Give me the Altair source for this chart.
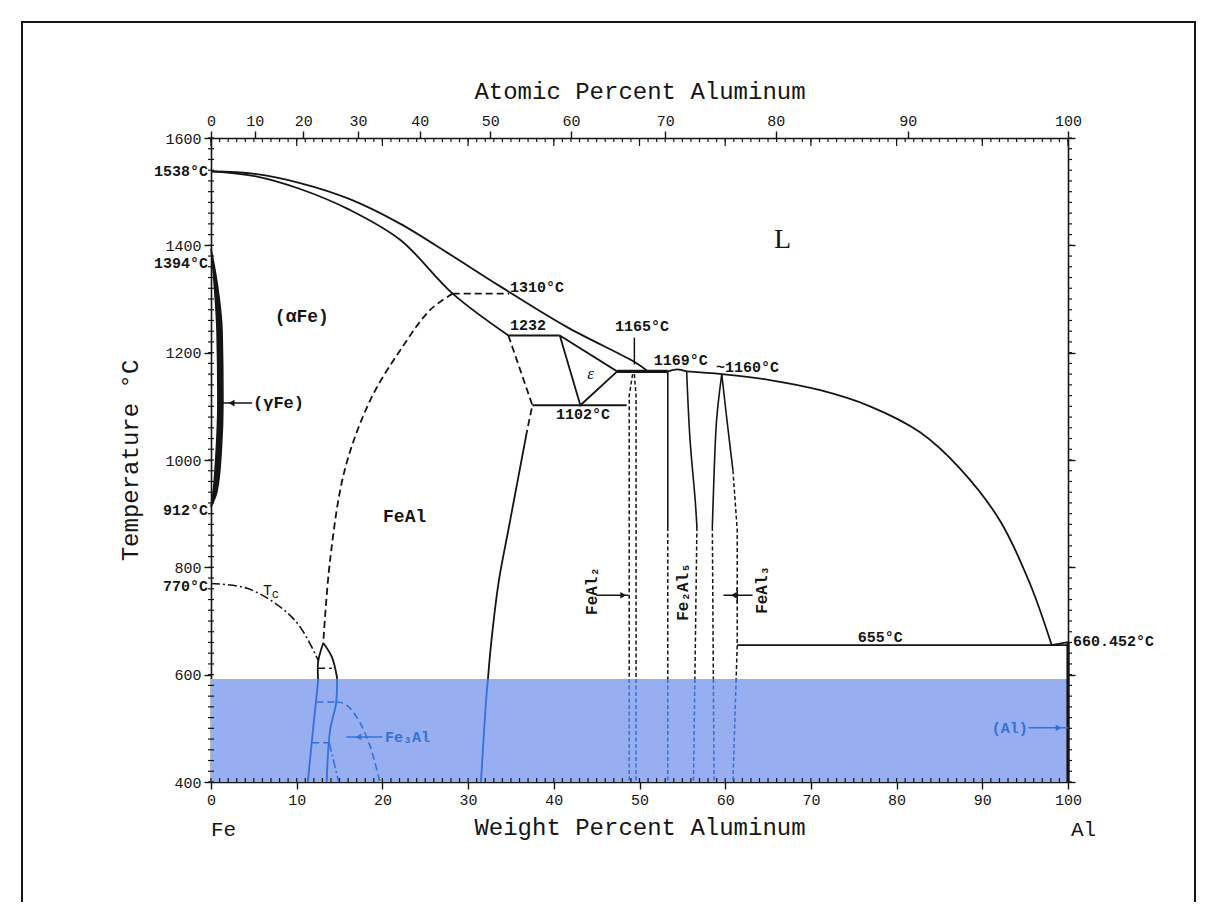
import altair as alt
import pandas as pd

# ---------------- data (weight % Al, temperature °C) ----------------
liq_fe_wt = [0, 5.1, 10.4, 16.2, 22.1, 27.9, 33.7, 41.5, 49.7, 51.0]
liq_fe_T = [1538, 1533, 1516, 1486, 1440, 1383, 1324, 1248, 1180, 1165]

sol_fe_wt = [0, 5.1, 10.4, 16.2, 22.1, 28.2, 34.7]
sol_fe_T = [1538, 1529, 1505, 1466, 1410, 1310, 1232]

line1310_wt = [28.2, 34.8]
line1310_T = [1310, 1310]

b2_wt = [28.2, 25.6, 22.1, 18.6, 15.6, 13.9, 13.1]
b2_T = [1310, 1280, 1205, 1112, 981, 814, 659]

fe3al_left_wt = [13.1, 12.5, 12.5, 11.9, 11.3]
fe3al_left_T = [659, 624, 590, 497, 400]
fe3al_right_wt = [13.1, 14.1, 14.7, 14.6, 13.9, 13.5]
fe3al_right_T = [659, 633, 594, 547, 497, 400]
fe3al_dash_lo = [12.5, 12.3, 11.8]
fe3al_dash_hi = [14.1, 14.6, 13.8]
fe3al_dash_T = [612, 549, 473]

tc_wt = [0, 4.2, 8.1, 10.4, 12.5]
tc_T = [770, 761, 726, 689, 627]
tc2_wt = [13.8, 14.9]
tc2_T = [473, 400]

d03_wt = [14.6, 15.4, 16.2, 17.4, 18.6, 19.7]
d03_T = [549, 547, 538, 510, 465, 400]

feal_dash_wt = [34.7, 37.5, 36.9]
feal_dash_T = [1232, 1102, 1056]
feal_solid_wt = [36.9, 35.8, 34.7, 33.6, 32.7, 32.1, 31.5]
feal_solid_T = [1056, 963, 870, 776, 660, 553, 400]

eps_wt = [40.7, 43.1, 47.4, 40.7]
eps_T = [1232, 1102, 1165, 1232]
line1232_wt = [34.7, 40.7]
line1232_T = [1232, 1232]
line1102_wt = [37.5, 48.5]
line1102_T = [1102, 1102]
line1165_wt = [47.4, 53.3]
line1165_T = [1165, 1165]
mark1165_wt = [49.4, 49.4]
mark1165_T = [1228, 1178]

feal2_l_wt = [49.2, 48.8, 48.8]
feal2_l_T = [1160, 1120, 400]
feal2_r_wt = [49.4, 49.6, 49.6]
feal2_r_T = [1160, 1120, 400]

fe2al5_l_wt = [53.3, 53.3]
fe2al5_l_T = [1165, 875]
fe2al5_ld_wt = [53.3, 53.3]
fe2al5_ld_T = [875, 400]
fe2al5_top_wt = [53.3, 54.4, 55.5]
fe2al5_top_T = [1165, 1169, 1165]
fe2al5_r_wt = [55.5, 55.9, 56.5, 56.7]
fe2al5_r_T = [1165, 1037, 925, 875]
fe2al5_rd_wt = [56.7, 56.3]
fe2al5_rd_T = [875, 400]

feal3_l_wt = [59.6, 59.0, 58.6, 58.5]
feal3_l_T = [1160, 1075, 926, 875]
feal3_ld_wt = [58.5, 58.7]
feal3_ld_T = [875, 400]
feal3_r_wt = [59.6, 60.2, 60.9]
feal3_r_T = [1160, 1075, 981]
feal3_rd_wt = [60.9, 61.4, 61.4, 60.9]
feal3_rd_T = [981, 870, 655, 400]

liq_al_wt = [55.5, 59.6, 65.2, 71.1, 76.9, 82.7, 87.4, 92.1, 95.6, 98.1]
liq_al_T = [1165, 1160, 1149, 1130, 1100, 1052, 984, 886, 768, 655]

line655_wt = [61.4, 100]
line655_T = [655, 655]
al_end_wt = [98.1, 100]
al_end_T = [655, 660.452]
al_line_wt = [100, 100]
al_line_T = [660.452, 400]

gamma_T = [1394, 1332, 1239, 1109, 1016, 941, 912]
gamma_outer = [0, 0.7, 1.3, 1.4, 1.2, 0.7, 0]
gamma_inner = [0, 0.35, 0.7, 0.8, 0.6, 0.25, 0]

band_wt = [0, 100]
band_T = [400, 592]

# axis tick values
bottom_major = list(range(0, 101, 10))
wt_minor = list(range(0, 101))
T_major = list(range(400, 1601, 200))
T_minor = list(range(400, 1601, 20))
at_major = list(range(0, 101, 10))

# labels
ann_text = ["1310°C", "1232", "1165°C", "1169°C", "~1160°C", "1102°C", "655°C"]
ann_wt = [34.9, 34.9, 50.3, 54.8, 62.6, 43.4, 78.1]
ann_T = [1322, 1252, 1250, 1186, 1174, 1086, 670]

left_text = ["1538°C", "1394°C", "912°C", "770°C"]
left_T = [1538, 1368, 906, 765]

phase_text = ["(αFe)", "FeAl"]
phase_wt = [10.6, 22.6]
phase_T = [1266, 894]

rot_text = ["FeAl₂", "Fe₂Al₅", "FeAl₃"]
rot_wt = [44.4, 55.1, 64.3]
rot_T = [756, 754, 758]

BLACK = "#151515"
BLUE = "#3470dc"
BAND = "#97aef0"
FONT = "Liberation Mono"
W, H = 857, 644
BAND_TOP = band_T[1]
M_AL, M_FE = 26.982, 55.845

XS = alt.Scale(domain=[0, 100], nice=False, zero=False)
YS = alt.Scale(domain=[400, 1600], nice=False, zero=False)


def X(f="wt", axis=None):
    return alt.X(f"{f}:Q", scale=XS, axis=axis)


def Y(f="T", axis=None):
    return alt.Y(f"{f}:Q", scale=YS, axis=axis)


def seg_rows(name, wts, Ts, style, width, interp, blue_ok=True):
    parts, cur = [], [(wts[0], Ts[0])]
    for i in range(1, len(wts)):
        x0, y0, x1, y1 = wts[i - 1], Ts[i - 1], wts[i], Ts[i]
        if blue_ok and (y0 - BAND_TOP) * (y1 - BAND_TOP) < 0:
            t = (BAND_TOP - y0) / (y1 - y0)
            xc = x0 + t * (x1 - x0)
            cur.append((xc, BAND_TOP))
            parts.append(cur)
            cur = [(xc, BAND_TOP)]
        cur.append((x1, y1))
    parts.append(cur)
    rows = []
    for k, p in enumerate(parts):
        mid = sum(q[1] for q in p) / len(p)
        col = BLUE if (blue_ok and mid < BAND_TOP) else BLACK
        for j, (x, y) in enumerate(p):
            rows.append(dict(seg=f"{name}_{k}", i=j, wt=x, T=y, col=col,
                             style=style, w=width, interp=interp))
    return rows


CR = "catmull-rom"
curves = [
    ("liq_fe", liq_fe_wt, liq_fe_T, "solid", 1.8, CR),
    ("sol_fe", sol_fe_wt, sol_fe_T, "solid", 1.8, CR),
    ("l1310", line1310_wt, line1310_T, "dashed", 1.8, "linear"),
    ("b2", b2_wt, b2_T, "dashed", 1.8, CR),
    ("f3l", fe3al_left_wt, fe3al_left_T, "solid", 1.8, CR),
    ("f3r", fe3al_right_wt, fe3al_right_T, "solid", 1.8, CR),
    ("tc", tc_wt, tc_T, "dashdot", 1.6, CR),
    ("tc2", tc2_wt, tc2_T, "dashdot", 1.6, "linear"),
    ("d03", d03_wt, d03_T, "dashed", 1.6, CR),
    ("fealdash", feal_dash_wt, feal_dash_T, "dashed", 1.8, "linear"),
    ("fealsolid", feal_solid_wt, feal_solid_T, "solid", 1.8, CR),
    ("eps", eps_wt, eps_T, "solid", 1.8, "linear"),
    ("l1232", line1232_wt, line1232_T, "solid", 1.8, "linear"),
    ("l1102", line1102_wt, line1102_T, "solid", 1.8, "linear"),
    ("l1165", line1165_wt, line1165_T, "solid", 3.2, "linear"),
    ("m1165", mark1165_wt, mark1165_T, "solid", 1.5, "linear"),
    ("fa2l", feal2_l_wt, feal2_l_T, "fine", 1.5, "linear"),
    ("fa2r", feal2_r_wt, feal2_r_T, "fine", 1.5, "linear"),
    ("f25l", fe2al5_l_wt, fe2al5_l_T, "solid", 1.6, "linear"),
    ("f25ld", fe2al5_ld_wt, fe2al5_ld_T, "fine", 1.5, "linear"),
    ("f25t", fe2al5_top_wt, fe2al5_top_T, "solid", 1.8, CR),
    ("f25r", fe2al5_r_wt, fe2al5_r_T, "solid", 1.6, CR),
    ("f25rd", fe2al5_rd_wt, fe2al5_rd_T, "fine", 1.5, "linear"),
    ("fa3l", feal3_l_wt, feal3_l_T, "solid", 1.6, CR),
    ("fa3ld", feal3_ld_wt, feal3_ld_T, "fine", 1.5, "linear"),
    ("fa3r", feal3_r_wt, feal3_r_T, "solid", 1.6, CR),
    ("fa3rd", feal3_rd_wt, feal3_rd_T, "fine", 1.5, "linear"),
    ("liq_al", liq_al_wt, liq_al_T, "solid", 1.8, CR),
    ("l655", line655_wt, line655_T, "solid", 1.8, "linear"),
    ("alend", al_end_wt, al_end_T, "solid", 1.8, "linear"),
]
rows = []
for name, w, t, st, wd, ip in curves:
    rows += seg_rows(name, w, t, st, wd, ip)
for k in range(len(fe3al_dash_T)):
    rows += seg_rows(f"f3d{k}", [fe3al_dash_lo[k], fe3al_dash_hi[k]],
                     [fe3al_dash_T[k], fe3al_dash_T[k]], "dashed", 1.5, "linear")
rows += seg_rows("alline", al_line_wt, al_line_T, "solid", 3.2, "linear", blue_ok=False)
df = pd.DataFrame(rows)

DASHES = {"solid": None, "dashed": [7, 4], "dashdot": [9, 3, 2, 3], "fine": [4, 2.5]}


def line_layer(style, interp):
    d = df[(df["style"] == style) & (df["interp"] == interp)]
    kw = dict(interpolate=interp, strokeCap="butt")
    if DASHES[style]:
        kw["strokeDash"] = DASHES[style]
    return alt.Chart(d).mark_line(**kw).encode(
        x=X(), y=Y(), detail="seg:N", order=alt.Order("i:Q"),
        color=alt.Color("col:N", scale=None),
        strokeWidth=alt.StrokeWidth("w:Q", scale=None),
    )


line_layers = []
for st in DASHES:
    for ip in ["linear", CR]:
        if len(df[(df["style"] == st) & (df["interp"] == ip)]):
            line_layers.append(line_layer(st, ip))

# band + bottom/left axes
band_df = pd.DataFrame({"wt": [band_wt[0]], "wt1": [band_wt[1]], "T": [band_T[0]], "T1": [band_T[1]]})
axis_common = dict(labelFont=FONT, titleFont=FONT, labelFontSize=15, titleFontSize=24,
                   titleFontWeight="normal", labelColor=BLACK, titleColor=BLACK,
                   domainColor=BLACK, tickColor=BLACK, domainWidth=1.6, tickWidth=1.4,
                   grid=False, labelFlush=False, labelOverlap=False)
band = alt.Chart(band_df).mark_rect(color=BAND).encode(
    x=X(axis=alt.Axis(orient="bottom", values=bottom_major, tickSize=7, labelPadding=3,
                      format="d", title="Weight Percent Aluminum", titlePadding=8,
                      **axis_common)),
    x2=alt.X2("wt1:Q"),
    y=Y(axis=alt.Axis(orient="left", values=T_major, tickSize=7, labelPadding=3,
                      format="d", title="Temperature °C", titlePadding=22, **axis_common)),
    y2=alt.Y2("T1:Q"),
)

top_vals = [100 * a * M_AL / (a * M_AL + (100 - a) * M_FE) for a in at_major]
at_expr = ("format(round(100*(datum.value/%g)/((datum.value/%g)+((100-datum.value)/%g))),'d')"
           % (M_AL, M_AL, M_FE))
top_right = alt.Chart(band_df).mark_point(opacity=0).encode(
    x=X(axis=alt.Axis(orient="top", values=top_vals, labelExpr=at_expr, tickSize=7,
                      labelPadding=3, title="Atomic Percent Aluminum", titlePadding=10,
                      **axis_common)),
    y=Y(axis=alt.Axis(orient="right", values=T_major, tickSize=7, labels=False, title=None,
                      **{k: v for k, v in axis_common.items() if not k.startswith("title")})),
)

# minor ticks
wt_df = pd.DataFrame({"wt": wt_minor})
wt10_df = pd.DataFrame({"wt": bottom_major})
T_df = pd.DataFrame({"T": T_minor})
rule_kw = dict(color=BLACK, strokeWidth=1.2)
ticks = [
    alt.Chart(wt_df).mark_rule(**rule_kw).encode(x=X(), y=alt.value(H), y2=alt.value(H - 4)),
    alt.Chart(wt_df).mark_rule(**rule_kw).encode(x=X(), y=alt.value(0), y2=alt.value(4)),
    alt.Chart(wt10_df).mark_rule(**rule_kw).encode(x=X(), y=alt.value(0), y2=alt.value(8)),
    alt.Chart(T_df).mark_rule(**rule_kw).encode(y=Y(), x=alt.value(-3), x2=alt.value(3)),
    alt.Chart(T_df).mark_rule(**rule_kw).encode(y=Y(), x=alt.value(W), x2=alt.value(W + 4)),
]

# gamma loop
gamma_df = pd.DataFrame({"T": gamma_T, "o": gamma_outer, "n": gamma_inner})
gamma = alt.Chart(gamma_df).mark_area(orient="horizontal", color=BLACK, interpolate="monotone",
                                      stroke=BLACK, strokeWidth=1.5).encode(
    y=Y(), x=X("o"), x2=alt.X2("n:Q"))


def text_layer(texts, wts, Ts, color=BLACK, size=15, weight="bold", align="center",
               baseline="middle", angle=0, font=FONT, style=None, dx=0, dy=0):
    d = pd.DataFrame({"t": texts, "wt": wts, "T": Ts})
    props = dict(align=align, baseline=baseline, font=font, fontSize=size,
                 fontWeight=weight, color=color, dx=dx, dy=dy, angle=angle)
    if style:
        props["fontStyle"] = style
    return alt.Chart(d).mark_text(**props).encode(x=X(), y=Y(), text="t:N")


texts = [
    text_layer(ann_text[:2], ann_wt[:2], ann_T[:2], align="left"),
    text_layer(ann_text[2:], ann_wt[2:], ann_T[2:]),
    text_layer(left_text, [0] * len(left_text), left_T, align="right", dx=-3),
    text_layer(["660.452°C"], [100], [663], align="left", dx=5),
    text_layer(phase_text, phase_wt, phase_T, size=18),
    text_layer(["(γFe)"], [4.9], [1106], size=17, align="left"),
    text_layer(["L"], [66.7], [1410], size=28, weight="normal", font="Liberation Serif"),
    text_layer(["ε"], [44.3], [1160], size=17, weight="normal", style="italic", font="Liberation Serif"),
    text_layer(["T"], [6.6], [758], size=15, weight="normal"),
    text_layer(["c"], [7.5], [750], size=12, weight="normal"),
    text_layer(rot_text, rot_wt, rot_T, size=16, angle=270),
    text_layer(["Fe₃Al"], [20.3], [484], color=BLUE, size=15, align="left"),
    text_layer(["(Al)"], [95.3], [501], color=BLUE, size=15, align="right"),
    text_layer(["Fe"], [0], [311], size=21, weight="normal", align="left"),
    text_layer(["Al"], [100], [311], size=21, weight="normal", align="left", dx=3),
]

# arrows
arrow_lines = pd.DataFrame({
    "wt": [0.8, 45.0, 59.8, 15.8, 95.4], "wt1": [4.8, 48.7, 63.2, 20.0, 100],
    "T": [1106, 748, 748, 484, 501], "c": [BLACK, BLACK, BLACK, BLUE, BLUE]})
arrows = [
    alt.Chart(arrow_lines).mark_rule(strokeWidth=1.5).encode(
        x=X(), x2=alt.X2("wt1:Q"), y=Y(), color=alt.Color("c:N", scale=None)),
    alt.Chart(pd.DataFrame({"wt": [2.4, 61.0, 17.2], "T": [1106, 748, 484],
                            "c": [BLACK, BLACK, BLUE]})).mark_point(
        shape="triangle-left", filled=True, size=45, opacity=1).encode(
        x=X(), y=Y(), color=alt.Color("c:N", scale=None)),
    alt.Chart(pd.DataFrame({"wt": [48.1, 98.9], "T": [748, 501],
                            "c": [BLACK, BLUE]})).mark_point(
        shape="triangle-right", filled=True, size=45, opacity=1).encode(
        x=X(), y=Y(), color=alt.Color("c:N", scale=None)),
    alt.Chart(pd.DataFrame({"wt": [61.4], "T": [762], "T1": [734]})).mark_rule(
        color=BLACK, strokeWidth=1.5).encode(x=X(), y=Y(), y2=alt.Y2("T1:Q")),
]

frame = alt.Chart(band_df).mark_rect(fill="transparent", stroke=BLACK, strokeWidth=2).encode(
    x=alt.value(-189), x2=alt.value(984), y=alt.value(-116), y2=alt.value(H + 200))

chart = alt.layer(
    band, top_right, frame, *ticks, gamma, *line_layers, *arrows, *texts
).resolve_axis(x="independent", y="independent").properties(
    width=W, height=H,
    padding={"left": 203, "top": 130, "right": 140, "bottom": 120},
    autosize=alt.AutoSizeParams(type="none"),
    background="white",
).configure_view(stroke=None)

chart.save("out.html", embed_options={"renderer": "svg", "actions": False})
